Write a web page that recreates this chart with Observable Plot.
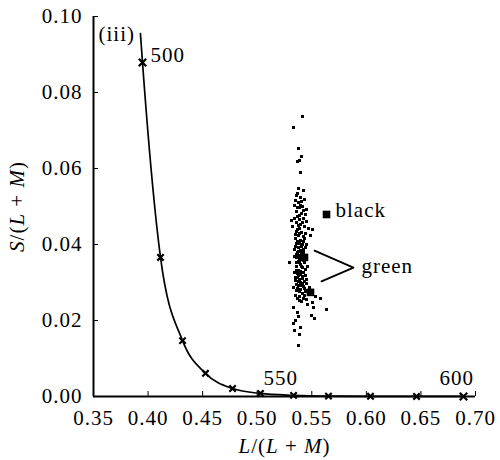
<!DOCTYPE html>
<html><head><meta charset="utf-8">
<script src="https://cdn.jsdelivr.net/npm/d3@7"></script>
<script src="https://cdn.jsdelivr.net/npm/@observablehq/plot@0.6"></script>
<style>
body{margin:0;background:#fff}
#chart svg{font-family:"Liberation Serif","Times New Roman",serif}
</style>
</head><body><div id="chart"></div>
<script>
// Spectrum locus (MacLeod–Boynton), first point is the locus start above 500 nm
const locusNm = [null, 500, 510, 520, 530, 540, 550, 560, 570, 580, 590, 600];
const locusL = [0.393, 0.3949, 0.4114, 0.4316, 0.4526, 0.4774, 0.5030, 0.5333, 0.5653, 0.6038, 0.6460, 0.6890];
const locusS = [0.0955, 0.0879, 0.0366, 0.0147, 0.0061, 0.0021, 0.0008, 0.0003, 0.0001, 0.00005, 0.00002, 0.00001];

// Sample chromaticities (small dots)
const sampleL = [0.5415,0.5333,0.5378,0.5406,0.5369,0.5388,0.5397,0.5378,0.5424,0.5360,0.5397,0.5433,0.5378,0.5342,0.5388,0.5452,0.5360,0.5406,0.5369,0.5424,0.5314,0.5360,0.5397,0.5433,0.5323,0.5388,0.5470,0.5507,0.5360,0.5406,0.5443,0.5378,0.5424,0.5488,0.5351,0.5397,0.5360,0.5415,0.5378,0.5443,0.5342,0.5397,0.5369,0.5424,0.5388,0.5360,0.5406,0.5378,0.5433,0.5296,0.5397,0.5360,0.5415,0.5461,0.5378,0.5342,0.5397,0.5443,0.5369,0.5415,0.5351,0.5397,0.5452,0.5378,0.5424,0.5333,0.5479,0.5397,0.5360,0.5443,0.5351,0.5424,0.5534,0.5580,0.5388,0.5507,0.5516,0.5333,0.5635,0.5369,0.5378,0.5497,0.5525,0.5351,0.5333,0.5397,0.5342,0.5388,0.5378,
0.5388,0.5369,0.5424,0.5406,0.5360,0.5415,0.5452,0.5388,0.5369,0.5424,0.5388,0.5433,0.5406,0.5369,0.5461,0.5415,0.5388,0.5452,0.5397,0.5443,0.5388,0.5351,0.5415,0.5378,0.5452,
0.5351,0.5433,0.5388,0.5452,0.5351,0.5424,0.5378,0.5406,0.5342,0.5388,0.5424,0.5360,0.5406,0.5443,0.5360,0.5397,0.5378,0.5415,0.5351,0.5452,0.5378,0.5415,0.5360,0.5433,0.5388,0.5433,0.5369,0.5406,0.5461,0.5369,0.5406,0.5369,0.5424,0.5388,0.5342,0.5415,0.5369];
const sampleS = [0.0737,0.0708,0.0653,0.0632,0.0618,0.0621,0.0589,0.0547,0.0542,0.0529,0.0524,0.0518,0.0511,0.0503,0.0497,0.0492,0.0487,0.0482,0.0474,0.0468,0.0463,0.0458,0.0453,0.0447,0.0447,0.0442,0.0442,0.0439,0.0434,0.0432,0.0429,0.0424,0.0421,0.0424,0.0416,0.0411,0.0403,0.0400,0.0392,0.0392,0.0387,0.0384,0.0379,0.0379,0.0371,0.0366,0.0361,0.0355,0.0353,0.0353,0.0347,0.0342,0.0339,0.0342,0.0332,0.0326,0.0321,0.0318,0.0313,0.0311,0.0305,0.0300,0.0297,0.0292,0.0289,0.0287,0.0287,0.0282,0.0279,0.0276,0.0266,0.0258,0.0263,0.0258,0.0253,0.0247,0.0234,0.0234,0.0229,0.0221,0.0211,0.0213,0.0205,0.0200,0.0192,0.0182,0.0174,0.0163,0.0134,
0.0429,0.0408,0.0408,0.0395,0.0374,0.0368,0.0363,0.0353,0.0324,0.0326,0.0308,0.0303,0.0292,0.0284,0.0279,0.0271,0.0263,0.0255,0.0503,0.0479,0.0466,0.0516,0.0500,0.0450,0.0461,
0.0426,0.0416,0.0403,0.0400,0.0395,0.0387,0.0382,0.0376,0.0368,0.0363,0.0358,0.0353,0.0342,0.0334,0.0332,0.0329,0.0318,0.0316,0.0313,0.0308,0.0303,0.0297,0.0295,0.0284,0.0276,0.0266,0.0258,0.0250,0.0242,0.0534,0.0513,0.0497,0.0489,0.0476,0.0468,0.0458,0.0439];

// Stimuli (large squares)
const stimulusName = ["black", "green", "green"];
const stimulusL = [0.5635, 0.5433, 0.5488];
const stimulusS = [0.0479, 0.0366, 0.0274];

// Leader line for "green"
const leaderL = [0.5525, 0.5882, 0.5589];
const leaderS = [0.0384, 0.0339, 0.0303];

// Text annotations
const noteText = ["(iii)", "500", "550", "600", "black", "green"];
const noteL = [0.3546, 0.4022, 0.5058, 0.667, 0.5717, 0.5955];
const noteS = [0.0952, 0.0897, 0.0047, 0.0047, 0.0491, 0.0344];

// Axis ticks
const xTicks = [0.35, 0.40, 0.45, 0.50, 0.55, 0.60, 0.65, 0.70];
const yTicks = [0.00, 0.02, 0.04, 0.06, 0.08, 0.10];

const locus = locusL.map((L, i) => ({L, S: locusS[i], nm: locusNm[i]}));
const samples = sampleL.map((L, i) => ({L, S: sampleS[i]}));
const stimuli = stimulusL.map((L, i) => ({L, S: stimulusS[i], name: stimulusName[i]}));
const leader = leaderL.map((L, i) => ({L, S: leaderS[i]}));
const notes = noteText.map((t, i) => ({t, L: noteL[i], S: noteS[i]}));

const chart = Plot.plot({
  width: 500, height: 460,
  marginLeft: 93, marginRight: 25, marginTop: 16, marginBottom: 64,
  style: {fontFamily: "'Liberation Serif', 'Times New Roman', serif", fontSize: "21px", background: "white", color: "black", letterSpacing: "1px"},
  x: {domain: [0.35, 0.70], ticks: xTicks, tickSize: -5, tickPadding: 19, tickFormat: d => d.toFixed(2),
      label: "L/(L + M)", labelAnchor: "center", labelOffset: 56},
  y: {domain: [0, 0.10], ticks: yTicks, tickSize: -5, tickPadding: 16, tickFormat: d => d.toFixed(2),
      label: "S/(L + M)", labelAnchor: "center", labelOffset: 84},
  marks: [
    Plot.ruleX([0.35], {strokeWidth: 2}),
    Plot.ruleY([0], {strokeWidth: 2}),
    Plot.line(locus, {x: "L", y: "S", curve: "monotone-x", strokeWidth: 1.7}),
    Plot.dot(locus.filter(d => d.nm !== null), {x: "L", y: "S", symbol: "times",
      r: d => (d.nm === 500 || d.nm === 600) ? 4.4 : 3.3, strokeWidth: 2.2, stroke: "black"}),
    Plot.dot(samples, {x: "L", y: "S", symbol: "square", r: 1.6, fill: "black", shapeRendering: "crispEdges"}),
    Plot.dot(stimuli, {x: "L", y: "S", symbol: "square", r: 4.3, fill: "black"}),
    Plot.line(leader, {x: "L", y: "S", strokeWidth: 1.8}),
    Plot.text(notes, {x: "L", y: "S", text: "t", textAnchor: "start", lineAnchor: "middle", fontSize: 21})
  ]
});

document.getElementById("chart").appendChild(chart);

function italicize(selector, parts) {
  const t = chart.querySelector(selector);
  if (!t) return;
  t.textContent = "";
  for (const [s, it] of parts) {
    const ts = document.createElementNS("http://www.w3.org/2000/svg", "tspan");
    ts.textContent = s;
    if (it) ts.setAttribute("font-style", "italic");
    t.appendChild(ts);
  }
}
italicize('g[aria-label="x-axis label"] text', [["L", true], ["/(", false], ["L", true], [" + ", false], ["M", true], [")", false]]);
italicize('g[aria-label="y-axis label"] text', [["S", true], ["/(", false], ["L", true], [" + ", false], ["M", true], [")", false]]);
</script>
</body></html>
